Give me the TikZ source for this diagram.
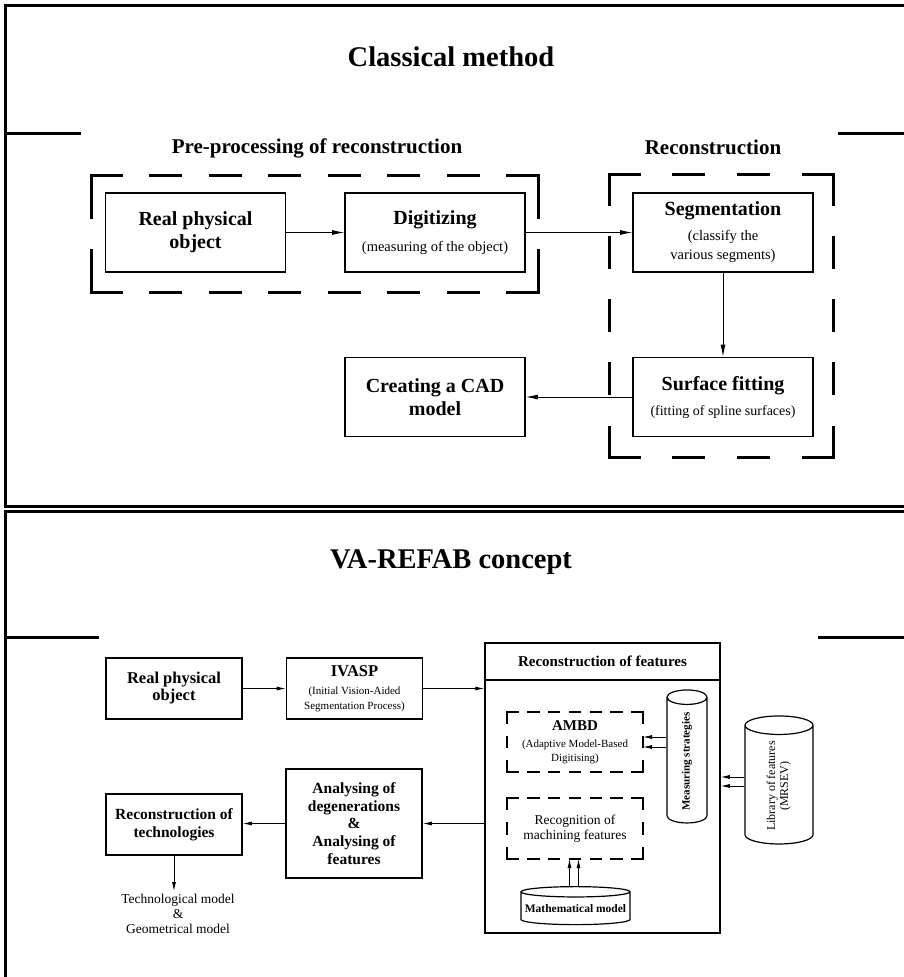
\documentclass[tikz,border=0pt]{standalone}
\usepackage{fontspec}
\setmainfont{Liberation Serif}
\usepackage{graphicx}
\usetikzlibrary{arrows.meta,shapes.geometric}

\newcommand{\fs}[2]{\fontsize{#1}{#2}\selectfont}

\tikzstyle{block} = [rectangle, draw, line width=1.7pt, align=center, inner sep=2pt]
\tikzstyle{topbox} = [block, minimum width=180pt, minimum height=79pt, font=\fs{20}{23}\bfseries]
\tikzstyle{lowbox} = [block, minimum width=136pt, minimum height=61pt, font=\fs{16.5}{17}\bfseries]
\tikzstyle{stage} = [rectangle, inner sep=0pt, outer sep=0pt, align=center]
\tikzstyle{stageline} = [line width=3pt, line cap=rect]
\tikzstyle{subline} = [line width=1.4pt, line cap=rect]
\tikzstyle{store} = [cylinder, draw, line width=1.2pt, shape border rotate=90, align=center, inner sep=1pt]
\tikzstyle{branch} = [draw, line width=0.8pt]
\tikzstyle{bigtip} = [-{Latex[length=12pt,width=5pt]}]
\tikzstyle{tip} = [-{Latex[length=9pt,width=4pt]}]
\tikzstyle{frame} = [line width=3pt]
\tikzstyle{title} = [font=\fs{28.5}{32}\bfseries]
\tikzstyle{heading} = [font=\fs{21}{24}\bfseries]

\begin{document}
\begin{tikzpicture}[x=1pt, y=-1pt]

\useasboundingbox (0,0) rectangle (903,977);

    	%panels
\draw[frame] (910,5) -- (5,5) -- (5,506) -- (910,506);
\draw[frame] (910,511) -- (5,511) -- (5,985);
\draw[frame] (5,133) -- (81,133);
\draw[frame] (838,133) -- (910,133);
\draw[frame] (5,637) -- (99,637);
\draw[frame] (818,637) -- (910,637);

\node [title] (classic) at (451,57) {Classical method};
\node [title] (varefab) at (451,562) {VA-REFAB concept};

    	%classical method
\node [stage, minimum width=447pt, minimum height=117pt] (pre) at (314.5,233.5) {};
\node [stage, minimum width=224pt, minimum height=283pt] (rec) at (721,315.5) {};
\node [heading] (prelabel) at (317,148) {Pre-processing of reconstruction};
\node [heading] (reclabel) at (713,147) {Reconstruction};

    	%dashed sides, a dash in each corner
\foreach \f/\ho/\hf/\vo/\vf in {pre/30/29.57/42/33, rec/30/34.67/30/33.25}
{
	\draw [stageline, dash pattern=on \ho pt off \hf pt] (\f.north west) -- (\f.north east);
	\draw [stageline, dash pattern=on \ho pt off \hf pt] (\f.south west) -- (\f.south east);
	\draw [stageline, dash pattern=on \vo pt off \vf pt] (\f.north west) -- (\f.south west);
	\draw [stageline, dash pattern=on \vo pt off \vf pt] (\f.north east) -- (\f.south east);
}

\node [topbox] (real) at (195.5,232.5) {Real physical\\object};
\node [topbox] (digit) at (435,232.5) {Digitizing\\[4pt]{\fs{14.5}{17}\mdseries (measuring of the object)}};
\node [topbox] (segm) at (723,232.5) {Segmentation\\[2pt]{\fs{14.5}{17}\mdseries (classify the}\\[-4pt]{\fs{14.5}{17}\mdseries various segments)}};
\node [topbox] (surf) at (723,397) {Surface fitting\\[2pt]{\fs{14}{17}\mdseries (fitting of spline surfaces)}};
\node [topbox] (cad) at (435,397) {Creating a CAD\\model};

\path [branch, bigtip] (real) -- (digit);
\path [branch, bigtip] (digit) -- (segm);
\path [branch, bigtip] (segm) -- (surf);
\path [branch, bigtip] (surf) -- (cad);

    	%VA-REFAB concept
\node [lowbox] (real2) at (174,688.5) {Real physical\\object};
\node [lowbox] (ivasp) at (354.5,688.5) {IVASP\\[1pt]{\fs{11}{13}\mdseries (Initial Vision-Aided}\\[-2pt]{\fs{11}{13}\mdseries Segmentation Process)}};
\node [lowbox, minimum height=109pt, font=\fs{15.5}{17.7}\bfseries] (anal) at (354,823.5) {Analysing of\\degenerations\\\&\\Analysing of\\features};
\node [lowbox, font=\fs{15.5}{18.3}\bfseries] (tech) at (174,824.5) {Reconstruction of\\technologies};
\node [align=center, inner sep=3pt, font=\fs{13.5}{15}] (out) at (178,914) {Technological model\\\&\\Geometrical model};

\node [block, line width=1.5pt, minimum width=235pt, minimum height=290pt] (recf) at (602.5,788) {};
\node [block, line width=1.5pt, minimum width=235pt, minimum height=37pt, anchor=north, font=\fs{15}{17}\bfseries] (recfh) at (recf.north) {Reconstruction of features};

\node [stage, minimum width=136pt, minimum height=60pt, font=\fs{11}{14}] (ambd) at (575,742) {{\fs{15}{17}\bfseries AMBD}\\[3pt](Adaptive Model-Based\\Digitising)};
\node [stage, minimum width=136pt, minimum height=61pt, font=\fs{13.5}{14.5}] (recog) at (575,828.5) {Recognition of\\machining features};

\foreach \f/\vf in {ambd/13.5, recog/14}
{
	\draw [subline, dash pattern=on 11pt off 9.83pt] (\f.north west) -- (\f.north east);
	\draw [subline, dash pattern=on 11pt off 9.83pt] (\f.south west) -- (\f.south east);
	\draw [subline, dash pattern=on 11pt off \vf pt] (\f.north west) -- (\f.south west);
	\draw [subline, dash pattern=on 11pt off \vf pt] (\f.north east) -- (\f.south east);
}

\node [store, minimum width=40pt, minimum height=133pt, aspect=1.2, font=\fs{11}{13}\bfseries] (meas) at (687,761.5) {\rotatebox{90}{Measuring strategies}};
\node [store, minimum width=68pt, minimum height=128pt, aspect=0.66, font=\fs{12}{13}] (lib) at (779,786) {\rotatebox{90}{\begin{tabular}{@{}c@{}}Library of features\\(MRSEV)\end{tabular}}};
\node [store, minimum width=109pt, minimum height=38pt, aspect=0.1, font=\fs{11.5}{13}\bfseries] (math) at (575.5,909) {Mathematical model};

\path [branch, tip] (real2) -- (ivasp);
\path [branch, tip] (ivasp.east) -- (ivasp.east -| recf.west);
\path [branch, tip] (recf.west |- anal.east) -- (anal.east);
\path [branch, tip] (anal.west) -- (anal.west -| tech.east);
\path [branch, tip] (tech.south) -- (tech.south |- out.north);

\foreach \s in {5,-5}
	\path [branch, tip] ([yshift=\s]ambd.east -| meas.west) -- ([yshift=\s]ambd.east);
\foreach \s in {9,0}
	\path [branch, tip] ([yshift=\s]lib.west) -- ([yshift=\s]lib.west -| recf.east);
\foreach \s in {-6,3}
	\path [branch, tip] ([xshift=\s]math.north) -- ([xshift=\s]math.north |- recog.south);

\end{tikzpicture}
\end{document}
